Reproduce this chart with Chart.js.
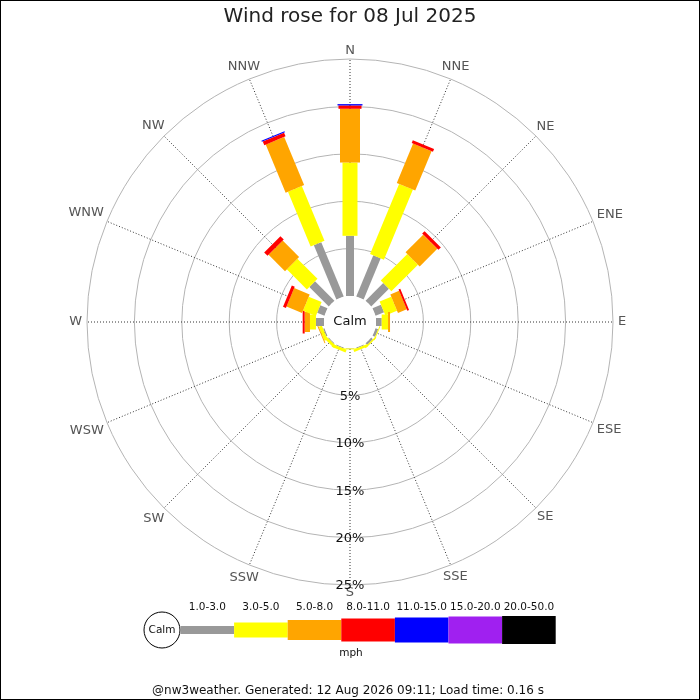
<!DOCTYPE html>
<html>
<head>
<meta charset="utf-8">
<title>Wind rose</title>
<script src="https://cdn.jsdelivr.net/npm/chart.js@4.4.1/dist/chart.umd.min.js"></script>
<style>
  html, body { margin: 0; padding: 0; background: #fff; }
  canvas { display: block; }
</style>
</head>
<body>
<canvas id="rose" width="700" height="700"></canvas>
<script>
// compass points, clockwise from north
const directions = ["N", "NNE", "NE", "ENE", "E", "ESE", "SE", "SSE",
                    "S", "SSW", "SW", "WSW", "W", "WNW", "NW", "NNW"];

// speed bands (mph)
const speedBins = ["1.0-3.0", "3.0-5.0", "5.0-8.0", "8.0-11.0", "11.0-15.0", "15.0-20.0", "20.0-50.0"];
const binColors = ["#999999", "#ffff00", "#ffa500", "#ff0000", "#0000ff", "#a020f0", "#000000"];
const binWidths = [8, 15, 20, 23, 25, 27, 28];

// percent of time per direction, one array per speed band
const band1to3   = [6.35, 4.7, 2.64, 0.97, 0.6, 0.3, 0.25, 0.1, 0.05, 0.1, 0.1, 0.15, 0.85, 0.83, 2.9, 6.2];
const band3to5   = [7.73, 8.0, 3.96, 1.33, 0.67, 0.1, 0.15, 0.25, 0.1, 0.3, 0.3, 0.35, 0.63, 1.47, 3.0, 6.25];
const band5to8   = [5.67, 4.5, 2.63, 1.0, 0.21, 0, 0, 0, 0, 0, 0, 0.1, 0.56, 1.77, 2.45, 5.5];
const band8to11  = [0.35, 0.3, 0.37, 0.2, 0, 0, 0, 0, 0, 0, 0, 0, 0.21, 0.33, 0.5, 0.42];
const band11to15 = [0.14, 0, 0, 0, 0, 0, 0, 0, 0, 0, 0, 0, 0, 0, 0, 0.13];
const band15to20 = [0, 0, 0, 0, 0, 0, 0, 0, 0, 0, 0, 0, 0, 0, 0, 0];
const band20to50 = [0, 0, 0, 0, 0, 0, 0, 0, 0, 0, 0, 0, 0, 0, 0, 0];
const bandValues = [band1to3, band3to5, band5to8, band8to11, band11to15, band15to20, band20to50];

const ringTicks = [5, 10, 15, 20, 25];

const titleText = "Wind rose for 08 Jul 2025";
const footerText = "@nw3weather. Generated: 12 Aug 2026 09:11; Load time: 0.16 s";

const FONT = '"DejaVu Sans", sans-serif';
const CALM_PX = 26; // radius of the calm circle

const rosePlugin = {
  id: "rose",
  afterDatasetsDraw(chart) {
    const ctx = chart.ctx;
    const scale = chart.scales.r;

    // stacked bars along each direction
    directions.forEach((d, i) => {
      const angle = scale.getIndexAngle(i) - Math.PI / 2;
      let base = 0;
      ctx.save();
      ctx.translate(scale.xCenter, scale.yCenter);
      ctx.rotate(angle);
      chart.data.datasets.forEach((ds) => {
        const v = ds.data[i];
        if (!v) return;
        const r0 = scale.getDistanceFromCenterForValue(base);
        const r1 = scale.getDistanceFromCenterForValue(base + v);
        ctx.fillStyle = ds.roseColor;
        ctx.fillRect(r0, -ds.roseWidth / 2, r1 - r0, ds.roseWidth);
        base += v;
      });
      ctx.restore();
    });

    // calm circle
    const rc = scale.getDistanceFromCenterForValue(0);
    ctx.save();
    ctx.beginPath();
    ctx.arc(scale.xCenter, scale.yCenter, rc, 0, Math.PI * 2);
    ctx.fillStyle = "#fff";
    ctx.fill();
    ctx.fillStyle = "#111";
    ctx.font = "13px " + FONT;
    ctx.textAlign = "center";
    ctx.textBaseline = "middle";
    ctx.fillText("Calm", scale.xCenter, scale.yCenter);
    ctx.restore();
  },
  afterDraw(chart) {
    const ctx = chart.ctx;
    const scale = chart.scales.r;
    ctx.save();
    ctx.textAlign = "center";
    ctx.textBaseline = "middle";

    // compass labels
    ctx.font = "13px " + FONT;
    ctx.fillStyle = "#555";
    directions.forEach((d, i) => {
      const a = scale.getIndexAngle(i);
      const w = ctx.measureText(d).width;
      const ext = Math.abs(Math.sin(a)) * w / 2 + Math.abs(Math.cos(a)) * 3;
      const p = scale.getPointPosition(i, scale.drawingArea + 5 + ext);
      ctx.fillText(d, p.x, p.y);
    });

    // ring labels down the south axis
    ctx.fillStyle = "#111";
    ringTicks.forEach((v) => {
      const y = scale.yCenter + scale.getDistanceFromCenterForValue(v) + 1;
      ctx.fillText(v + "%", scale.xCenter, y);
    });

    // title
    ctx.font = "20px " + FONT;
    ctx.fillStyle = "#222";
    ctx.fillText(titleText, 350, 17);

    // speed legend
    const ly = 630;
    ctx.beginPath();
    ctx.arc(162, ly, 18, 0, Math.PI * 2);
    ctx.fillStyle = "#fff";
    ctx.fill();
    ctx.strokeStyle = "#000";
    ctx.lineWidth = 1;
    ctx.stroke();
    ctx.font = "10.5px " + FONT;
    ctx.fillStyle = "#111";
    ctx.fillText("Calm", 162, ly);
    const segW = 53.6;
    speedBins.forEach((label, b) => {
      const x = 180.5 + b * segW;
      ctx.fillStyle = binColors[b];
      ctx.fillRect(x, ly - binWidths[b] / 2, segW, binWidths[b]);
      ctx.fillStyle = "#111";
      ctx.fillText(label, x + segW / 2, 607);
    });
    ctx.fillText("mph", 351, 653);

    // footer
    ctx.font = "12px " + FONT;
    ctx.fillText(footerText, 348, 691);

    // frame
    ctx.strokeStyle = "#000";
    ctx.lineWidth = 1;
    ctx.strokeRect(0.5, 0.5, 699, 699);
    ctx.restore();
  }
};

new Chart(document.getElementById("rose").getContext("2d"), {
  type: "radar",
  data: {
    labels: directions,
    datasets: speedBins.map((label, b) => ({
      label: label,
      data: bandValues[b],
      roseColor: binColors[b],
      roseWidth: binWidths[b],
      borderWidth: 0,
      borderColor: "transparent",
      backgroundColor: "transparent",
      pointRadius: 0,
      pointHitRadius: 0,
      fill: false,
    })),
  },
  options: {
    responsive: false,
    animation: false,
    events: [],
    layout: {
      padding: { left: 87, right: 87, top: 59, bottom: 115 },
    },
    scales: {
      r: {
        min: 0,
        max: 25,
        startAngle: 0,
        afterBuildTicks: (s) => {
          s.ticks = ringTicks.map((v) => ({ value: v }));
        },
        afterFit: (s) => {
          // leave room for the calm circle at value 0
          s.min = -CALM_PX * s.max / (s.drawingArea - CALM_PX);
        },
        ticks: { display: false },
        pointLabels: { display: false },
        grid: { circular: true, color: "#b4b4b4", lineWidth: 1 },
        angleLines: { color: "#333", lineWidth: 1, borderDash: [1, 2] },
      },
    },
    plugins: {
      legend: { display: false },
      title: { display: false },
      tooltip: { enabled: false },
    },
  },
  plugins: [rosePlugin],
});
</script>
</body>
</html>
